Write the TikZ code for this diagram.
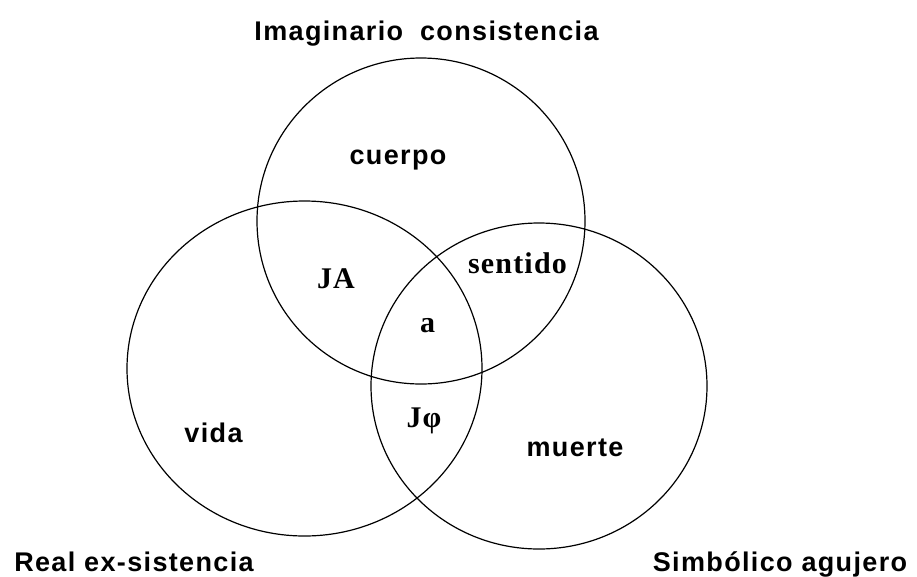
\documentclass[tikz,border=0pt]{standalone}
\usepackage{fontspec}
\setmainfont{Liberation Serif}
\newfontfamily\labsans[LetterSpace=5]{Liberation Sans}
\newfontfamily\labserif[LetterSpace=4]{Liberation Serif}
\begin{document}
\begin{tikzpicture}[x=1pt,y=-1pt,
  ring/.style={draw=black, line width=1.2pt},
  outerlab/.style={font=\labsans\bfseries\fontsize{27}{30}\selectfont, anchor=base, inner sep=0pt},
  innerlab/.style={font=\labserif\bfseries\fontsize{30}{34}\selectfont, anchor=base, inner sep=0pt}]
\useasboundingbox[fill=white] (0,0) rectangle (917,576);
% ring centres
\coordinate (cI) at (421,221);
\coordinate (cR) at (304.5,368.5);
\coordinate (cS) at (539,386);
\draw[ring] (cI) ellipse [x radius=164pt, y radius=163pt];
\draw[ring] (cR) ellipse [x radius=177.5pt, y radius=167.5pt];
\draw[ring] (cS) ellipse [x radius=168pt, y radius=163pt];
% outer titles
\node[outerlab] (imag) at (426.5,40) {Imaginario\hspace{0.3em} consistencia};
\node[outerlab] (real) at (134,571) {Real ex-sistencia};
\node[outerlab] (simb) at (780,571) {Simbólico agujero};
% region labels
\node[outerlab] (cuerpo) at (398,164) {cuerpo};
\node[outerlab] (vida) at (213.5,442) {vida};
\node[outerlab] (muerte) at (575,456) {muerte};
\node[innerlab] (ja) at (336,288) {JA};
\node[innerlab] (sentido) at (517.5,273) {sentido};
\node[innerlab] (a) at (427.5,332) {a};
\node[innerlab] (jphi) at (424,427) {Jφ};
\end{tikzpicture}
\end{document}
